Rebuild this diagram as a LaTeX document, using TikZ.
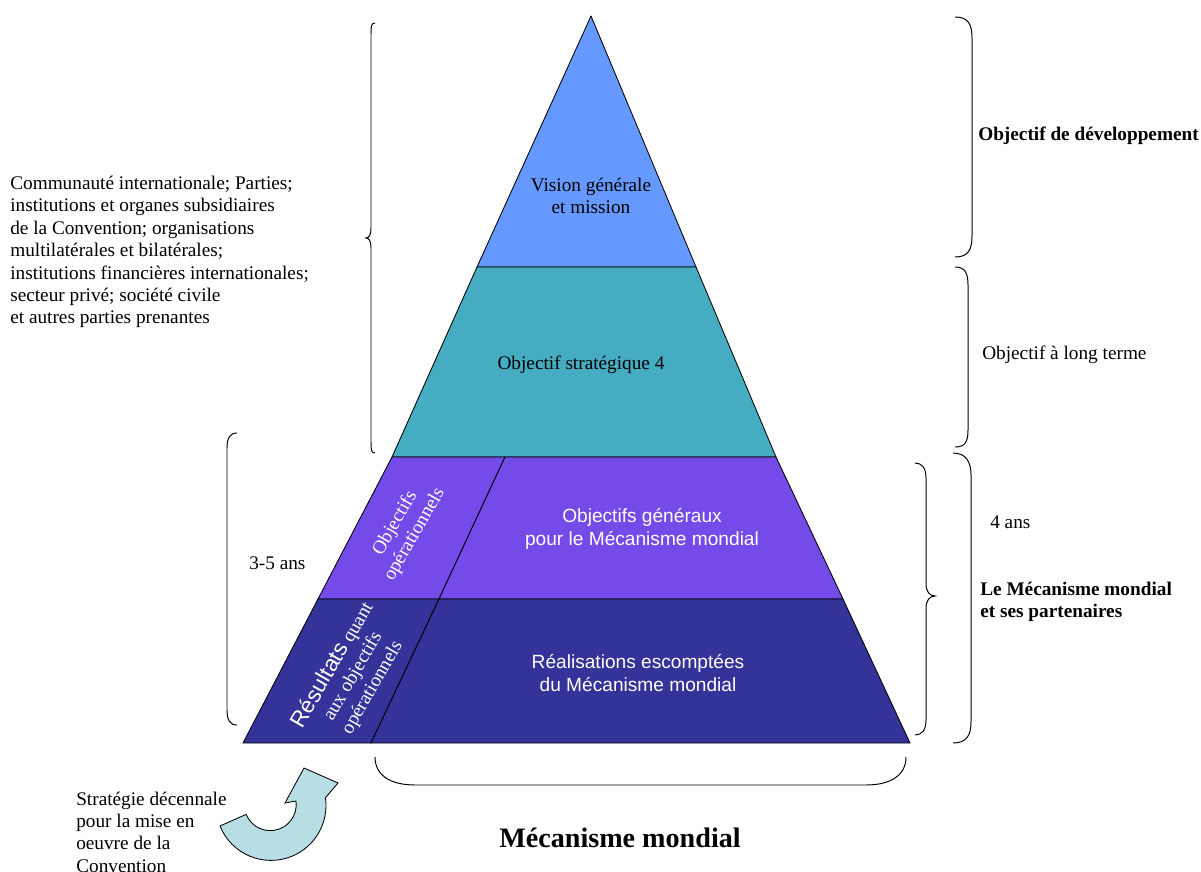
\documentclass[tikz,border=0pt]{standalone}
\usepackage{fontspec}
\setmainfont{Liberation Serif}
\setsansfont{Liberation Sans}

\definecolor{visionblue}{RGB}{102,153,255}
\definecolor{stratteal}{RGB}{69,172,194}
\definecolor{genpurple}{RGB}{116,74,232}
\definecolor{realblue}{RGB}{51,51,153}
\definecolor{cyclecyan}{RGB}{183,222,228}

\begin{document}
\begin{tikzpicture}[x=0.025cm, y=-0.025cm,
  level/.style={draw=black, line width=0.6pt, line join=round},
  txt/.style={font=\fontsize{13.7}{15.9}\selectfont, inner sep=0pt, align=center},
  wtxt/.style={txt, text=white, font=\sffamily\fontsize{13.6}{16.3}\selectfont},
  side/.style={txt, anchor=west, align=left},
  bracket/.style={draw, line width=0.7pt}
]
\useasboundingbox (0,0) rectangle (1201,872);

% Pyramid levels
\draw[level, fill=visionblue] (591,16) -- (696,267) -- (477,267) -- cycle;
\draw[level, fill=stratteal] (477,267) -- (696,267) -- (776,457) -- (392,457) -- cycle;
\draw[level, fill=genpurple] (392,457) -- (505,457) -- (439,599) -- (318,599) -- cycle;
\draw[level, fill=genpurple] (505,457) -- (776,457) -- (843,599) -- (439,599) -- cycle;
\draw[level, fill=realblue] (318,599) -- (439,599) -- (371,743) -- (243,743) -- cycle;
\draw[level, fill=realblue] (439,599) -- (843,599) -- (910,743) -- (371,743) -- cycle;

% Texts inside the pyramid
\node[txt] (vision) at (591,196) {Vision générale\\et mission};
\node[txt] (strat) at (581,365) {Objectif stratégique 4};
\node[wtxt] (general) at (642,529) {Objectifs généraux\\pour le Mécanisme mondial};
\node[wtxt] (realis) at (638,673) {Réalisations escomptées\\du Mécanisme mondial};
\node[txt, text=white, rotate=60] (opobj) at (405,529) {Objectifs\\opérationnels};
\node[txt, text=white, rotate=60] (results) at (352,676)
  {{\sffamily\fontsize{16}{15.9}\selectfont Résultats} quant\\aux objectifs\\opérationnels};

% Braces
\draw[bracket] (375,23) .. controls (371,23) and (371,27) .. (371,34) -- (371,228)
  .. controls (371,235) and (369,238) .. (366,238) .. controls (369,238) and (371,241) .. (371,248)
  -- (371,442) .. controls (371,449) and (371,453) .. (375,453);
\draw[bracket] (237,433) .. controls (230,433) and (227,438) .. (227,448) -- (227,710)
  .. controls (227,720) and (230,725) .. (237,725);
\draw[bracket] (955,17) .. controls (968,17) and (972,24) .. (972,38) -- (972,236)
  .. controls (972,250) and (968,257) .. (955,257);
\draw[bracket] (955,267) .. controls (965,267) and (968,273) .. (968,285) -- (968,430)
  .. controls (968,442) and (965,447) .. (955,447);
\draw[bracket] (953,453) .. controls (966,453) and (971,462) .. (971,475) -- (971,722)
  .. controls (971,736) and (966,743) .. (953,743);
\draw[bracket] (915,463) .. controls (922,463) and (926,468) .. (926,478) -- (926,584)
  .. controls (926,592) and (930,596) .. (935,596) .. controls (930,596) and (926,600) .. (926,608)
  -- (926,720) .. controls (926,730) and (922,735) .. (915,735);
\draw[bracket] (375,757) .. controls (375,775) and (390,785) .. (415,785) -- (866,785)
  .. controls (891,785) and (906,775) .. (906,757);

% Side labels
\node[side] (actors) at (10,252) {Communauté internationale; Parties;\\institutions et organes subsidiaires\\de la Convention; organisations\\multilatérales et bilatérales;\\institutions financières internationales;\\secteur privé; société civile\\et autres parties prenantes};
\node[side] (years35) at (249,563) {3-5 ans};
\node[side, font=\bfseries\fontsize{13.7}{15.9}\selectfont] (devobj) at (978,136) {Objectif de développement};
\node[side] (longterm) at (982,355) {Objectif à long terme};
\node[side] (years4) at (990,522) {4 ans};
\node[side, font=\bfseries\fontsize{13.7}{15.9}\selectfont] (partners) at (980,602) {Le Mécanisme mondial\\et ses partenaires};
\node[txt, font=\bfseries\fontsize{20}{24}\selectfont] (title) at (620,838) {Mécanisme mondial};
\node[side] (decade) at (76,832) {Stratégie décennale\\pour la mise en\\oeuvre de la\\Convention};

% Curved arrow
\draw[line width=0.6pt, fill=cyclecyan] (220,826) arc[start angle=158, end angle=-8, radius=55]
  -- (338,783) -- (304,768) -- (285,803) -- (296,801)
  arc[start angle=-8, end angle=158, radius=26] -- cycle;

\end{tikzpicture}
\end{document}
